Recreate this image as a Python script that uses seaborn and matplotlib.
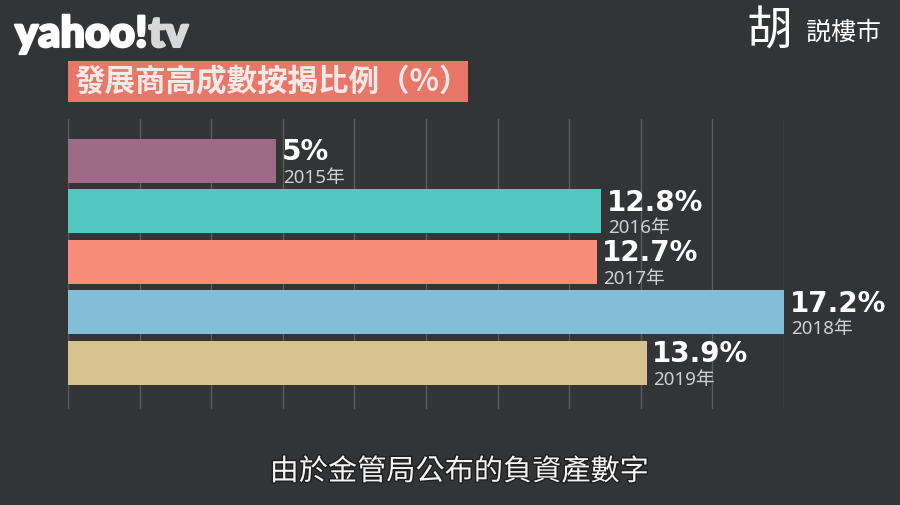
import matplotlib
matplotlib.use("Agg")
import matplotlib.pyplot as plt
import matplotlib.patheffects as pe
from matplotlib.patches import Rectangle
import numpy as np
import pandas as pd
import seaborn as sns

# ---- data ----
years = ["2015年", "2016年", "2017年", "2018年", "2019年"]
values = [5.0, 12.8, 12.7, 17.2, 13.9]
value_labels = ["5%", "12.8%", "12.7%", "17.2%", "13.9%"]
colors = ["#9e6b86", "#52c7c2", "#f98b79", "#84bdd8", "#d6c28e"]
title = "發展商高成數按揭比例（%）"
subtitle = "由於金管局公布的負資產數字"

BG = "#333436"
sns.set_theme(style="dark")
plt.rcParams["font.family"] = ["Noto Sans", "Noto Sans CJK TC", "DejaVu Sans"]

fig = plt.figure(figsize=(9, 5.06), dpi=100, facecolor=BG)
ax = fig.add_axes([68 / 900, 1 - 410 / 506, 716 / 900, 290 / 506])
ax.set_facecolor(BG)

df = pd.DataFrame({"year": years, "value": values})
sns.barplot(data=df, x="value", y="year", hue="year", palette=colors,
            legend=False, width=0.87, orient="h", ax=ax, saturation=1,
            edgecolor="none", zorder=3)

ax.set_xlim(0, 17.2)
ax.set_ylim(4.92, -0.83)
ax.set_xticks(np.linspace(0, 17.2, 11))
ax.set_yticks([])
ax.tick_params(axis="x", length=0, labelbottom=False)
ax.set_xlabel("")
ax.set_ylabel("")
ax.grid(axis="x", color="#5a5b5e", linewidth=1, zorder=0)
ax.grid(axis="y", visible=False)
for s in ax.spines.values():
    s.set_visible(False)

# value + year labels
for i, (v, lab, yr) in enumerate(zip(values, value_labels, years)):
    ax.annotate(lab, xy=(v, i), xytext=(4, 1), textcoords="offset points",
                ha="left", va="baseline", fontsize=20, fontweight="bold",
                color="white", family=["DejaVu Sans"],
                annotation_clip=False, zorder=5)
    ax.annotate(yr, xy=(v, i), xytext=(5, -5), textcoords="offset points",
                ha="left", va="top", fontsize=13.5, color="#cfd0d0",
                family=["Noto Sans", "Noto Sans CJK TC"],
                annotation_clip=False, zorder=5)

# title box
fig.patches.append(Rectangle((68 / 900, 1 - 103 / 506), 400 / 900, 41 / 506,
                             transform=fig.transFigure, facecolor="#e8776a",
                             edgecolor="none", zorder=1))
fig.text(74 / 900, 1 - 82.5 / 506, title, ha="left", va="center", fontsize=22,
         color="#f6e9e6", family=["Noto Sans CJK TC", "DejaVu Sans"],
         fontweight="bold", zorder=2)

# yahoo!tv logo
t1 = fig.text(15 / 900, 1 - 35 / 506, "yahoo!", ha="left", va="center",
              fontsize=31, fontweight="heavy", color="white",
              family=["Lato", "DejaVu Sans"],
              path_effects=[pe.withStroke(linewidth=1.5, foreground="white")])
r = fig.canvas.get_renderer()
bb = t1.get_window_extent(renderer=r)
fig.text((bb.x1 + 1) / 900, 1 - 35 / 506, "tv", ha="left", va="center",
         fontsize=31, fontweight="heavy", color="#d8d8d8",
         family=["Lato", "DejaVu Sans"],
         path_effects=[pe.withStroke(linewidth=1.5, foreground="#d8d8d8")])

# top-right logo
fig.text(746 / 900, 1 - 31 / 506, "胡", ha="left", va="center", fontsize=33,
         color="white", family=["Noto Sans CJK TC"])
fig.text(806 / 900, 1 - 33 / 506, "説樓市", ha="left", va="center",
         fontsize=18, color="white", family=["Noto Sans CJK JP"])

# subtitle
fig.text(459 / 900, 1 - 473 / 506, subtitle, ha="center", va="center",
         fontsize=21, color="#f4f4f4", family=["Noto Sans CJK TC"],
         path_effects=[pe.withStroke(linewidth=2, foreground="#1e1e1e")])

fig.savefig("out.png", dpi=100, facecolor=BG)
